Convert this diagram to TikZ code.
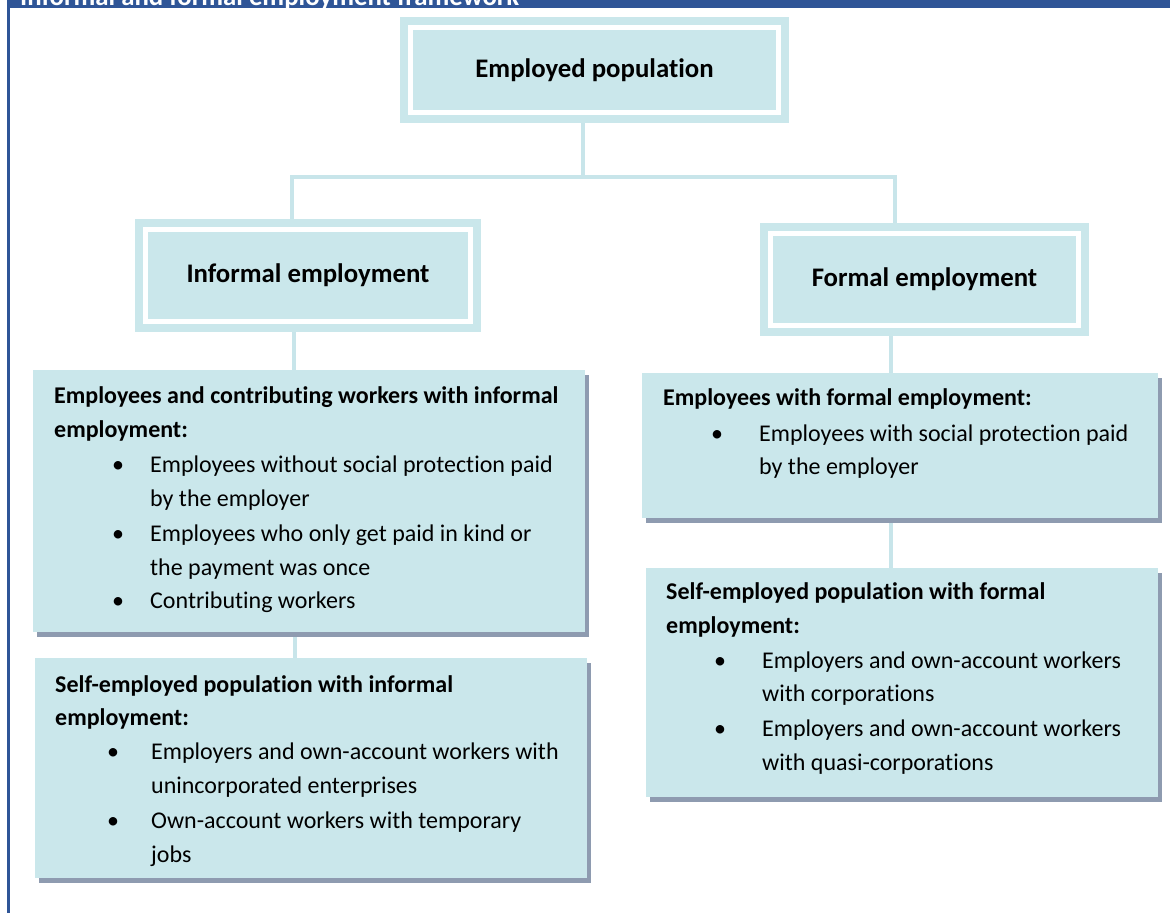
\documentclass[tikz,border=0pt]{standalone}
\usepackage{fontspec}
\setmainfont{Carlito}[Ligatures=NoCommon]
\usetikzlibrary{shadows,backgrounds}
\definecolor{bl}{RGB}{202,231,235}
\definecolor{cn}{RGB}{200,229,234}
\definecolor{sh}{RGB}{142,155,176}
\definecolor{bar}{RGB}{47,85,151}
\begin{document}
\begin{tikzpicture}[x=1pt,y=-1pt,
  framebox/.style={fill=bl, draw=white, line width=5pt, inner sep=0pt, outer sep=0pt,
    preaction={draw=bl, fill=bl, line width=21pt},
    font=\fontsize{26.8}{30}\selectfont\bfseries},
  listbox/.style={fill=bl, inner sep=0pt, outer sep=0pt,
    drop shadow={shadow xshift=4pt, shadow yshift=-5pt, fill=sh, opacity=1}},
  conn/.style={draw=cn, line width=4pt},
  txt/.style={anchor=base west, inner sep=0pt, font=\fontsize{24}{28}\selectfont},
  hd/.style={anchor=base west, inner sep=0pt, font=\fontsize{24}{28}\selectfont\bfseries},
  bul/.style={anchor=base, inner sep=0pt, font=\fontsize{24}{28}\selectfont}]
\useasboundingbox (0,0) rectangle (1170,913);
% page frame
\fill[bar] (7,0) rectangle (1170,8);
\fill[bar] (7,0) rectangle (9.5,913);
\begin{scope}
\clip (7,0) rectangle (1170,8);
\node[anchor=base west, inner sep=0pt, text=white, font=\fontsize{26.8}{30}\selectfont\bfseries] (ttl) at (20,5) {Informal and formal employment framework};
\end{scope}
% framed boxes
\node[framebox, minimum width=368pt, minimum height=85pt] (top) at (594.5,70) {Employed population};
\node[framebox, minimum width=325pt, minimum height=92pt] (inf) at (308,275.5) {Informal employment};
\node[framebox, minimum width=308pt, minimum height=92pt] (frm) at (924.5,279.5) {Formal employment};
% list boxes
\node[listbox, minimum width=552pt, minimum height=262pt] (lb1) at (309,501) {};
\node[listbox, minimum width=552pt, minimum height=220pt] (lb2) at (311,768) {};
\node[listbox, minimum width=516pt, minimum height=145pt] (rb1) at (900,445.5) {};
\node[listbox, minimum width=512pt, minimum height=229pt] (rb2) at (902,682.5) {};
% connectors
\begin{scope}[on background layer]
\coordinate (hT) at (583,177);
\coordinate (hL) at (292,177);
\coordinate (hR) at (894.5,177);
\draw[conn] (top.south -| hT) -- (hT);
\draw[conn] (hL |- inf.north) -- (hL) -- (hR) -- (hR |- frm.north);
\coordinate (cL1) at (294,0);
\coordinate (cL2) at (295,0);
\coordinate (cR) at (891,0);
\draw[conn] (cL1 |- inf.south) -- (cL1 |- lb1.north);
\draw[conn] (cL2 |- lb1.south) -- (cL2 |- lb2.north);
\draw[conn] (cR |- frm.south) -- (cR |- rb1.north);
\draw[conn] (cR |- rb1.south) -- (cR |- rb2.north);
\end{scope}
% left box 1
\node[hd] (l1a) at (54,403) {Employees and contributing workers with informal};
\node[hd] (l1b) at (54,437) {employment:};
\node[bul] (l1c) at (118,472.5) {•};
\node[txt] (l1d) at (150,472.5) {Employees without social protection paid};
\node[txt] (l1e) at (150,506) {by the employer};
\node[bul] (l1f) at (118,541.5) {•};
\node[txt] (l1g) at (150,541.5) {Employees who only get paid in kind or};
\node[txt] (l1h) at (150,575) {the payment was once};
\node[bul] (l1i) at (118,608.5) {•};
\node[txt] (l1j) at (150,608.5) {Contributing workers};
% left box 2
\node[hd] (l2a) at (55,692.5) {Self-employed population with informal};
\node[hd] (l2b) at (55,725.5) {employment:};
\node[bul] (l2c) at (113,759.5) {•};
\node[txt] (l2d) at (151,759.5) {Employers and own-account workers with};
\node[txt] (l2e) at (151,793.5) {unincorporated enterprises};
\node[bul] (l2f) at (113,828.5) {•};
\node[txt] (l2g) at (151,828.5) {Own-account workers with temporary};
\node[txt] (l2h) at (151,862.5) {jobs};
% right box 1
\node[hd] (r1a) at (663,405.5) {Employees with formal employment:};
\node[bul] (r1b) at (717,441.5) {•};
\node[txt] (r1c) at (759,441.5) {Employees with social protection paid};
\node[txt] (r1d) at (759,474.5) {by the employer};
% right box 2
\node[hd] (r2a) at (666,599.5) {Self-employed population with formal};
\node[hd] (r2b) at (666,633.5) {employment:};
\node[bul] (r2c) at (720,668.5) {•};
\node[txt] (r2d) at (762,668.5) {Employers and own-account workers};
\node[txt] (r2e) at (762,701.5) {with corporations};
\node[bul] (r2f) at (720,736.5) {•};
\node[txt] (r2g) at (762,736.5) {Employers and own-account workers};
\node[txt] (r2h) at (762,770.5) {with quasi-corporations};
\end{tikzpicture}
\end{document}
